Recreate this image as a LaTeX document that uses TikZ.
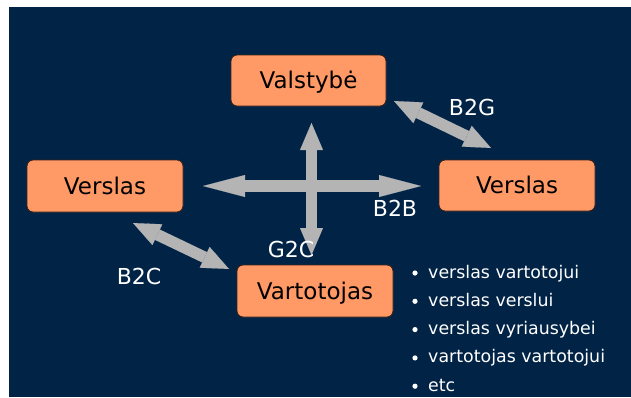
\documentclass[tikz,border=0pt]{standalone}
\usepackage{fontspec}
\setmainfont{DejaVu Sans}
\usetikzlibrary{arrows.meta}
\definecolor{navy}{RGB}{0,35,70}
\definecolor{boxfill}{RGB}{255,153,102}
\definecolor{boxline}{RGB}{60,35,25}
\definecolor{arrowgray}{RGB}{180,180,180}
\begin{document}
\begin{tikzpicture}[x=1pt,y=-1pt,
  actor/.style={draw=boxline,line width=0.9pt,fill=boxfill,rounded corners=6pt,
    minimum width=156pt,minimum height=52pt,inner sep=0pt,
    text height=16.5pt,text depth=0pt,
    font=\fontsize{23}{27}\selectfont,text=black},
  flowlabel/.style={inner sep=0pt,text=white,font=\fontsize{22}{26}\selectfont},
  listitem/.style={anchor=base west,inner sep=0pt,text=white,font=\fontsize{17.4}{21}\selectfont},
  blockarrow/.style={draw=arrowgray,line width=11.5pt,
    {Triangle[width=23pt,length=27pt,line width=0.1pt]}-{Triangle[width=23pt,length=27pt,line width=0.1pt]}},
  longhead/.style={draw=arrowgray,line width=11.5pt,
    {Triangle[width=22pt,length=42pt,line width=0.1pt]}-{Triangle[width=22pt,length=42pt,line width=0.1pt]}}
]
\useasboundingbox (0,0) rectangle (631,397);
\fill[white] (0,0) rectangle (631,397);
\fill[navy] (9,7) rectangle (631,397);

% the four actors
\node[actor,minimum width=155pt,minimum height=51pt] (state) at (308.5,80.5) {Valstybė};
\node[actor,minimum height=51pt] (bizR) at (517,185.5) {Verslas};
\node[actor] (bizL) at (105,186) {Verslas};
\node[actor] (cons) at (315,291) {Vartotojas};

% free ends of the interaction arrows
\coordinate (hL) at (203,186);
\coordinate (hR) at (421,186);
\coordinate (vT) at (311.5,123);
\coordinate (vB) at (311.5,255);
\coordinate (gA) at (394,101);
\coordinate (gB) at (491,148);
\coordinate (cA) at (133,223);
\coordinate (cB) at (229,269);

\draw[longhead] (hL) -- (hR);
\draw[blockarrow] (vT) -- (vB);
\draw[blockarrow] (gA) -- (gB);
\draw[blockarrow] (cA) -- (cB);

% arrow labels
\node[flowlabel] (lB2G) at (472,107) {B2G};
\node[flowlabel] (lB2B) at (395,208) {B2B};
\node[flowlabel] (lG2C) at (291,249) {G2C};
\node[flowlabel] (lB2C) at (139,276) {B2C};

% list of examples
\foreach \txt [count=\i] in {verslas vartotojui,verslas verslui,verslas vyriausybei,vartotojas vartotojui,etc}{
  \node[listitem] (item\i) at (428,{278+28.3*(\i-1)}) {\txt};
  \fill[white] (415,{273+28.3*(\i-1)}) circle (2.6pt);
}
\end{tikzpicture}
\end{document}
